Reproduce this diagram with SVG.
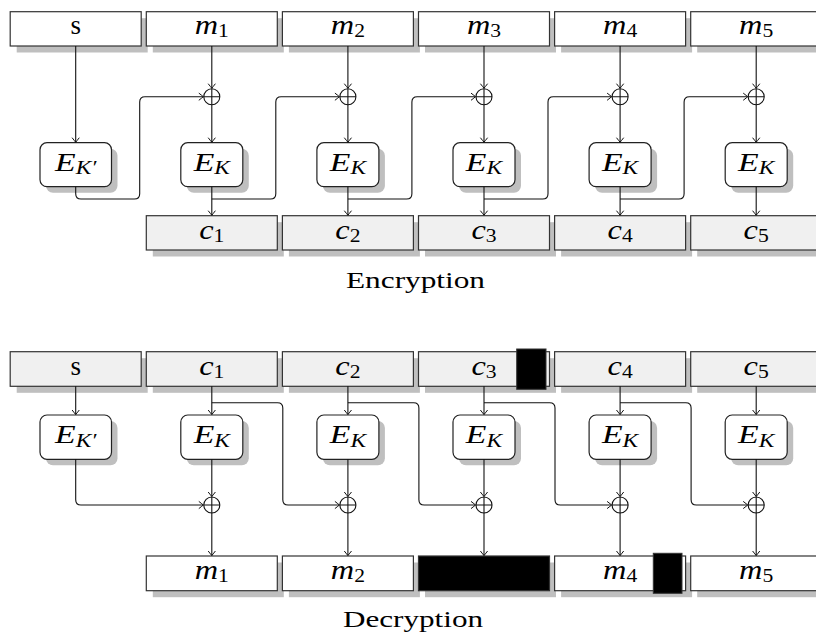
<svg xmlns="http://www.w3.org/2000/svg" width="816" height="633" viewBox="0 0 816 633">
<defs>
<style>
.bx{stroke:#333;stroke-width:1.2}
.w{fill:#fff}
.g{fill:#f0f0f0}
.sh{fill:#bfbfbf}
.eb{fill:#fff;stroke:#222;stroke-width:1.2}
.ln{fill:none;stroke:#111;stroke-width:1.1}
.ar{marker-end:url(#arr)}
.x{fill:none;stroke:#111;stroke-width:1.1}
.t{font-family:"Liberation Serif","Times New Roman",serif;font-size:27px;text-anchor:middle;fill:#000}
.e{font-size:26px;font-style:italic}
.mi{font-style:italic}
.sb{font-size:18px;font-style:normal}
.sbi{font-size:18px;font-style:italic}
.cap{font-family:"Liberation Serif","Times New Roman",serif;font-size:23px;text-anchor:middle;fill:#000}
</style>
<marker id="arr" viewBox="-6 -5 7 10" markerWidth="7" markerHeight="10" refX="0" refY="0" orient="auto" markerUnits="userSpaceOnUse">
<path d="M-4.5,-3.6 Q-1,-0.9 0,0 Q-1,0.9 -4.5,3.6" fill="none" stroke="#111" stroke-width="1"/>
</marker>
</defs>
<rect width="816" height="633" fill="#fff"/>

<!-- ENCRYPTION -->
<g id="enc-top">
<g id="enc-s"><rect class="sh" x="16.7" y="18.2" width="131" height="34.3"/><rect class="bx w" x="10.2" y="11.7" width="131" height="34.3"/><text class="t" x="75.7" y="34.3" font-size="25">s</text></g>
<g id="enc-m1"><rect class="sh" x="152.8" y="18.2" width="131" height="34.3"/><rect class="bx w" x="146.3" y="11.7" width="131" height="34.3"/><text class="t" transform="translate(211.8,34.3) scale(1.2,1)"><tspan class="mi">m</tspan><tspan class="sb" dy="3">1</tspan></text></g>
<g id="enc-m2"><rect class="sh" x="288.9" y="18.2" width="131" height="34.3"/><rect class="bx w" x="282.4" y="11.7" width="131" height="34.3"/><text class="t" transform="translate(347.9,34.3) scale(1.2,1)"><tspan class="mi">m</tspan><tspan class="sb" dy="3">2</tspan></text></g>
<g id="enc-m3"><rect class="sh" x="425" y="18.2" width="131" height="34.3"/><rect class="bx w" x="418.5" y="11.7" width="131" height="34.3"/><text class="t" transform="translate(484,34.3) scale(1.2,1)"><tspan class="mi">m</tspan><tspan class="sb" dy="3">3</tspan></text></g>
<g id="enc-m4"><rect class="sh" x="561.1" y="18.2" width="131" height="34.3"/><rect class="bx w" x="554.6" y="11.7" width="131" height="34.3"/><text class="t" transform="translate(620.1,34.3) scale(1.2,1)"><tspan class="mi">m</tspan><tspan class="sb" dy="3">4</tspan></text></g>
<g id="enc-m5"><rect class="sh" x="697.2" y="18.2" width="131" height="34.3"/><rect class="bx w" x="690.7" y="11.7" width="131" height="34.3"/><text class="t" transform="translate(756.2,34.3) scale(1.2,1)"><tspan class="mi">m</tspan><tspan class="sb" dy="3">5</tspan></text></g>
</g>

<g id="enc-E">
<g id="enc-E0"><rect class="sh" x="46" y="148.7" width="71.5" height="44" rx="7"/><rect class="eb" x="40" y="142.7" width="71.5" height="44" rx="7"/><text class="t e" transform="translate(75.7,170.5) scale(1.3,1)">E<tspan class="sbi" dy="3.5">K′</tspan></text></g>
<g id="enc-E1"><rect class="sh" x="186.8" y="148.7" width="62" height="44" rx="7"/><rect class="eb" x="180.8" y="142.7" width="62" height="44" rx="7"/><text class="t e" transform="translate(211.8,170.5) scale(1.3,1)">E<tspan class="sbi" dy="3.5">K</tspan></text></g>
<g id="enc-E2"><rect class="sh" x="322.9" y="148.7" width="62" height="44" rx="7"/><rect class="eb" x="316.9" y="142.7" width="62" height="44" rx="7"/><text class="t e" transform="translate(347.9,170.5) scale(1.3,1)">E<tspan class="sbi" dy="3.5">K</tspan></text></g>
<g id="enc-E3"><rect class="sh" x="459" y="148.7" width="62" height="44" rx="7"/><rect class="eb" x="453" y="142.7" width="62" height="44" rx="7"/><text class="t e" transform="translate(484,170.5) scale(1.3,1)">E<tspan class="sbi" dy="3.5">K</tspan></text></g>
<g id="enc-E4"><rect class="sh" x="595.1" y="148.7" width="62" height="44" rx="7"/><rect class="eb" x="589.1" y="142.7" width="62" height="44" rx="7"/><text class="t e" transform="translate(620.1,170.5) scale(1.3,1)">E<tspan class="sbi" dy="3.5">K</tspan></text></g>
<g id="enc-E5"><rect class="sh" x="731.2" y="148.7" width="62" height="44" rx="7"/><rect class="eb" x="725.2" y="142.7" width="62" height="44" rx="7"/><text class="t e" transform="translate(756.2,170.5) scale(1.3,1)">E<tspan class="sbi" dy="3.5">K</tspan></text></g>
</g>

<g id="enc-xor">
<g id="enc-x1"><circle class="x" cx="211.8" cy="96.7" r="8"/><path class="x" d="M203.8,96.7H219.8M211.8,88.7V104.7"/></g>
<g id="enc-x2"><circle class="x" cx="347.9" cy="96.7" r="8"/><path class="x" d="M339.9,96.7H355.9M347.9,88.7V104.7"/></g>
<g id="enc-x3"><circle class="x" cx="484" cy="96.7" r="8"/><path class="x" d="M476,96.7H492M484,88.7V104.7"/></g>
<g id="enc-x4"><circle class="x" cx="620.1" cy="96.7" r="8"/><path class="x" d="M612.1,96.7H628.1M620.1,88.7V104.7"/></g>
<g id="enc-x5"><circle class="x" cx="756.2" cy="96.7" r="8"/><path class="x" d="M748.2,96.7H764.2M756.2,88.7V104.7"/></g>
</g>

<g id="enc-bottom">
<g id="enc-c1"><rect class="sh" x="152.8" y="222.2" width="131" height="34.3"/><rect class="bx g" x="146.3" y="215.7" width="131" height="34.3"/><text class="t" transform="translate(211.8,238.5) scale(1.2,1)"><tspan class="mi">c</tspan><tspan class="sb" dy="3">1</tspan></text></g>
<g id="enc-c2"><rect class="sh" x="288.9" y="222.2" width="131" height="34.3"/><rect class="bx g" x="282.4" y="215.7" width="131" height="34.3"/><text class="t" transform="translate(347.9,238.5) scale(1.2,1)"><tspan class="mi">c</tspan><tspan class="sb" dy="3">2</tspan></text></g>
<g id="enc-c3"><rect class="sh" x="425" y="222.2" width="131" height="34.3"/><rect class="bx g" x="418.5" y="215.7" width="131" height="34.3"/><text class="t" transform="translate(484,238.5) scale(1.2,1)"><tspan class="mi">c</tspan><tspan class="sb" dy="3">3</tspan></text></g>
<g id="enc-c4"><rect class="sh" x="561.1" y="222.2" width="131" height="34.3"/><rect class="bx g" x="554.6" y="215.7" width="131" height="34.3"/><text class="t" transform="translate(620.1,238.5) scale(1.2,1)"><tspan class="mi">c</tspan><tspan class="sb" dy="3">4</tspan></text></g>
<g id="enc-c5"><rect class="sh" x="697.2" y="222.2" width="131" height="34.3"/><rect class="bx g" x="690.7" y="215.7" width="131" height="34.3"/><text class="t" transform="translate(756.2,238.5) scale(1.2,1)"><tspan class="mi">c</tspan><tspan class="sb" dy="3">5</tspan></text></g>
</g>

<g id="enc-connectors">
<path class="ln ar" d="M75.7,46V142.2"/>
<path class="ln ar" d="M211.8,46V88.2"/><path class="ln ar" d="M211.8,104.7V142.2"/><path class="ln ar" d="M211.8,186.7V215.2"/>
<path class="ln ar" d="M347.9,46V88.2"/><path class="ln ar" d="M347.9,104.7V142.2"/><path class="ln ar" d="M347.9,186.7V215.2"/>
<path class="ln ar" d="M484,46V88.2"/><path class="ln ar" d="M484,104.7V142.2"/><path class="ln ar" d="M484,186.7V215.2"/>
<path class="ln ar" d="M620.1,46V88.2"/><path class="ln ar" d="M620.1,104.7V142.2"/><path class="ln ar" d="M620.1,186.7V215.2"/>
<path class="ln ar" d="M756.2,46V88.2"/><path class="ln ar" d="M756.2,104.7V142.2"/><path class="ln ar" d="M756.2,186.7V215.2"/>
<path class="ln ar" d="M75.7,186.7V193.7Q75.7,199 81,199H134.4Q139.7,199 139.7,193.7V102Q139.7,96.7 145,96.7H203.3"/>
<path class="ln ar" d="M211.8,199H270.5Q275.8,199 275.8,193.7V102Q275.8,96.7 281.1,96.7H339.4"/>
<path class="ln ar" d="M347.9,199H406.6Q411.9,199 411.9,193.7V102Q411.9,96.7 417.2,96.7H475.5"/>
<path class="ln ar" d="M484,199H542.7Q548,199 548,193.7V102Q548,96.7 553.3,96.7H611.6"/>
<path class="ln ar" d="M620.1,199H678.8Q684.1,199 684.1,193.7V102Q684.1,96.7 689.4,96.7H747.7"/>
</g>

<text id="enc-label" class="cap" x="415.5" y="287.7" textLength="139" lengthAdjust="spacingAndGlyphs">Encryption</text>

<!-- DECRYPTION -->
<g id="dec-top">
<g id="dec-s"><rect class="sh" x="16.7" y="358.2" width="131" height="34.6"/><rect class="bx g" x="10.2" y="351.7" width="131" height="34.6"/><text class="t" x="75.7" y="374.5" font-size="25">s</text></g>
<g id="dec-c1"><rect class="sh" x="152.8" y="358.2" width="131" height="34.6"/><rect class="bx g" x="146.3" y="351.7" width="131" height="34.6"/><text class="t" transform="translate(211.8,374.5) scale(1.2,1)"><tspan class="mi">c</tspan><tspan class="sb" dy="3">1</tspan></text></g>
<g id="dec-c2"><rect class="sh" x="288.9" y="358.2" width="131" height="34.6"/><rect class="bx g" x="282.4" y="351.7" width="131" height="34.6"/><text class="t" transform="translate(347.9,374.5) scale(1.2,1)"><tspan class="mi">c</tspan><tspan class="sb" dy="3">2</tspan></text></g>
<g id="dec-c3"><rect class="sh" x="425" y="358.2" width="131" height="34.6"/><rect class="bx g" x="418.5" y="351.7" width="131" height="34.6"/><text class="t" transform="translate(484,374.5) scale(1.2,1)"><tspan class="mi">c</tspan><tspan class="sb" dy="3">3</tspan></text><rect x="516.7" y="349" width="29.3" height="40.3" fill="#000" stroke="#333" stroke-width="1"/></g>
<g id="dec-c4"><rect class="sh" x="561.1" y="358.2" width="131" height="34.6"/><rect class="bx g" x="554.6" y="351.7" width="131" height="34.6"/><text class="t" transform="translate(620.1,374.5) scale(1.2,1)"><tspan class="mi">c</tspan><tspan class="sb" dy="3">4</tspan></text></g>
<g id="dec-c5"><rect class="sh" x="697.2" y="358.2" width="131" height="34.6"/><rect class="bx g" x="690.7" y="351.7" width="131" height="34.6"/><text class="t" transform="translate(756.2,374.5) scale(1.2,1)"><tspan class="mi">c</tspan><tspan class="sb" dy="3">5</tspan></text></g>
</g>

<g id="dec-E">
<g id="dec-E0"><rect class="sh" x="46" y="421" width="71.5" height="44.3" rx="7"/><rect class="eb" x="40" y="415" width="71.5" height="44.3" rx="7"/><text class="t e" transform="translate(75.7,443) scale(1.3,1)">E<tspan class="sbi" dy="3.5">K′</tspan></text></g>
<g id="dec-E1"><rect class="sh" x="186.8" y="421" width="62" height="44.3" rx="7"/><rect class="eb" x="180.8" y="415" width="62" height="44.3" rx="7"/><text class="t e" transform="translate(211.8,443) scale(1.3,1)">E<tspan class="sbi" dy="3.5">K</tspan></text></g>
<g id="dec-E2"><rect class="sh" x="322.9" y="421" width="62" height="44.3" rx="7"/><rect class="eb" x="316.9" y="415" width="62" height="44.3" rx="7"/><text class="t e" transform="translate(347.9,443) scale(1.3,1)">E<tspan class="sbi" dy="3.5">K</tspan></text></g>
<g id="dec-E3"><rect class="sh" x="459" y="421" width="62" height="44.3" rx="7"/><rect class="eb" x="453" y="415" width="62" height="44.3" rx="7"/><text class="t e" transform="translate(484,443) scale(1.3,1)">E<tspan class="sbi" dy="3.5">K</tspan></text></g>
<g id="dec-E4"><rect class="sh" x="595.1" y="421" width="62" height="44.3" rx="7"/><rect class="eb" x="589.1" y="415" width="62" height="44.3" rx="7"/><text class="t e" transform="translate(620.1,443) scale(1.3,1)">E<tspan class="sbi" dy="3.5">K</tspan></text></g>
<g id="dec-E5"><rect class="sh" x="731.2" y="421" width="62" height="44.3" rx="7"/><rect class="eb" x="725.2" y="415" width="62" height="44.3" rx="7"/><text class="t e" transform="translate(756.2,443) scale(1.3,1)">E<tspan class="sbi" dy="3.5">K</tspan></text></g>
</g>

<g id="dec-xor">
<g id="dec-x1"><circle class="x" cx="211.8" cy="505" r="8"/><path class="x" d="M203.8,505H219.8M211.8,497V513"/></g>
<g id="dec-x2"><circle class="x" cx="347.9" cy="505" r="8"/><path class="x" d="M339.9,505H355.9M347.9,497V513"/></g>
<g id="dec-x3"><circle class="x" cx="484" cy="505" r="8"/><path class="x" d="M476,505H492M484,497V513"/></g>
<g id="dec-x4"><circle class="x" cx="620.1" cy="505" r="8"/><path class="x" d="M612.1,505H628.1M620.1,497V513"/></g>
<g id="dec-x5"><circle class="x" cx="756.2" cy="505" r="8"/><path class="x" d="M748.2,505H764.2M756.2,497V513"/></g>
</g>

<g id="dec-bottom">
<g id="dec-m1"><rect class="sh" x="152.8" y="562.5" width="131" height="34.7"/><rect class="bx w" x="146.3" y="556" width="131" height="34.7"/><text class="t" transform="translate(211.8,578.8) scale(1.2,1)"><tspan class="mi">m</tspan><tspan class="sb" dy="3">1</tspan></text></g>
<g id="dec-m2"><rect class="sh" x="288.9" y="562.5" width="131" height="34.7"/><rect class="bx w" x="282.4" y="556" width="131" height="34.7"/><text class="t" transform="translate(347.9,578.8) scale(1.2,1)"><tspan class="mi">m</tspan><tspan class="sb" dy="3">2</tspan></text></g>
<g id="dec-m3"><rect class="sh" x="425" y="562.5" width="131" height="34.7"/><rect x="418.5" y="556" width="131" height="34.7" fill="#000" stroke="#333" stroke-width="1.2"/></g>
<g id="dec-m4"><rect class="sh" x="561.1" y="562.5" width="131" height="34.7"/><rect class="bx w" x="554.6" y="556" width="131" height="34.7"/><text class="t" transform="translate(620.1,578.8) scale(1.2,1)"><tspan class="mi">m</tspan><tspan class="sb" dy="3">4</tspan></text><rect x="653.3" y="553.3" width="28.7" height="40" fill="#000" stroke="#333" stroke-width="1"/></g>
<g id="dec-m5"><rect class="sh" x="697.2" y="562.5" width="131" height="34.7"/><rect class="bx w" x="690.7" y="556" width="131" height="34.7"/><text class="t" transform="translate(756.2,578.8) scale(1.2,1)"><tspan class="mi">m</tspan><tspan class="sb" dy="3">5</tspan></text></g>
</g>

<g id="dec-connectors">
<path class="ln ar" d="M75.7,386.3V414.5"/><path class="ln ar" d="M211.8,386.3V414.5"/><path class="ln ar" d="M347.9,386.3V414.5"/><path class="ln ar" d="M484,386.3V414.5"/><path class="ln ar" d="M620.1,386.3V414.5"/><path class="ln ar" d="M756.2,386.3V414.5"/>
<path class="ln ar" d="M211.8,459.3V496.5"/><path class="ln ar" d="M211.8,513V555.5"/>
<path class="ln ar" d="M347.9,459.3V496.5"/><path class="ln ar" d="M347.9,513V555.5"/>
<path class="ln ar" d="M484,459.3V496.5"/><path class="ln ar" d="M484,513V555.5"/>
<path class="ln ar" d="M620.1,459.3V496.5"/><path class="ln ar" d="M620.1,513V555.5"/>
<path class="ln ar" d="M756.2,459.3V496.5"/><path class="ln ar" d="M756.2,513V555.5"/>
<path class="ln ar" d="M75.7,459.3V499.7Q75.7,505 81,505H203.3"/>
<path class="ln ar" d="M211.8,402.7H277.5Q282.8,402.7 282.8,408V499.7Q282.8,505 288.1,505H339.4"/>
<path class="ln ar" d="M347.9,402.7H413.6Q418.9,402.7 418.9,408V499.7Q418.9,505 424.2,505H475.5"/>
<path class="ln ar" d="M484,402.7H549.7Q555,402.7 555,408V499.7Q555,505 560.3,505H611.6"/>
<path class="ln ar" d="M620.1,402.7H685.8Q691.1,402.7 691.1,408V499.7Q691.1,505 696.4,505H747.7"/>
</g>

<text id="dec-label" class="cap" x="413" y="626.5" textLength="140" lengthAdjust="spacingAndGlyphs">Decryption</text>
</svg>
